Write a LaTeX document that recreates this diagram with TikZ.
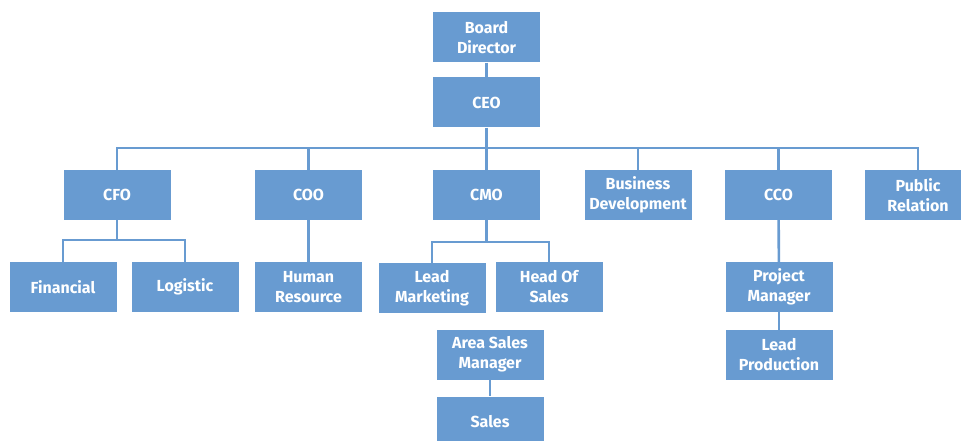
\documentclass[tikz,border=0pt]{standalone}
\usepackage{fontspec}
\setmainfont{Fira Sans}
\usetikzlibrary{positioning}

\definecolor{boxblue}{RGB}{104,155,209}

\begin{document}
\begin{tikzpicture}[
    x=1pt, y=-1pt,
    font=\fontsize{16}{20}\selectfont\bfseries
]
\tikzset{
    post/.style = {rectangle, fill=boxblue, text=white, align=center,
                   minimum width=107pt, minimum height=50pt, inner sep=2pt},
    link/.style = {draw=boxblue, line width=2.6pt}
}
\useasboundingbox (0,0) rectangle (961,441);
% top
\node[post] at (486.5,37.5) (board) {Board\\Director};
\node[post] at (486.5,102.5) (ceo) {CEO};
% chiefs
\node[post] at (117,195)   (cfo) {CFO};
\node[post] at (308.5,195) (coo) {COO};
\node[post] at (486.5,195) (cmo) {CMO};
\node[post] at (638,195)   (bd)  {Business\\Development};
\node[post] at (778.5,195) (cco) {CCO};
\node[post] at (918,195)   (pr)  {Public\\Relation};
% staff
\node[post] at (63,287)    (fin) {Financial};
\node[post] at (185,287)   (log) {Logistic};
\node[post] at (308.5,287) (hr)  {Human\\Resource};
\node[post] at (432,288)   (lm)  {Lead\\Marketing};
\node[post] at (549,287)   (hos) {Head Of\\Sales};
\node[post] at (490,354.5) (asm) {Area Sales\\Manager};
\node[post] at (490,421.5) (sal) {Sales};
\node[post] at (779,287)   (pm)  {Project\\Manager};
\node[post] at (779,355)   (lp)  {Lead\\Production};
% buses
\coordinate (bus) at (486.5,148);
\coordinate (cfobus) at (117,240);
\coordinate (cmobus) at (486.5,242);
% links
\draw[link] (board) -- (ceo);
\draw[link] (ceo) -- (bus);
\foreach \n in {cfo,coo,cmo,bd,cco,pr}
    \draw[link] (\n.north) |- (bus);
\draw[link] (cfo) -- (cfobus);
\draw[link] (fin.north) |- (cfobus);
\draw[link] (log.north) |- (cfobus);
\draw[link] (coo) -- (hr);
\draw[link] (cmo) -- (cmobus);
\draw[link] (lm.north) |- (cmobus);
\draw[link] (hos.north) |- (cmobus);
\draw[link] (asm) -- (sal);
\draw[link] (cco) -- (pm);
\draw[link] (pm) -- (lp);
\end{tikzpicture}
\end{document}
